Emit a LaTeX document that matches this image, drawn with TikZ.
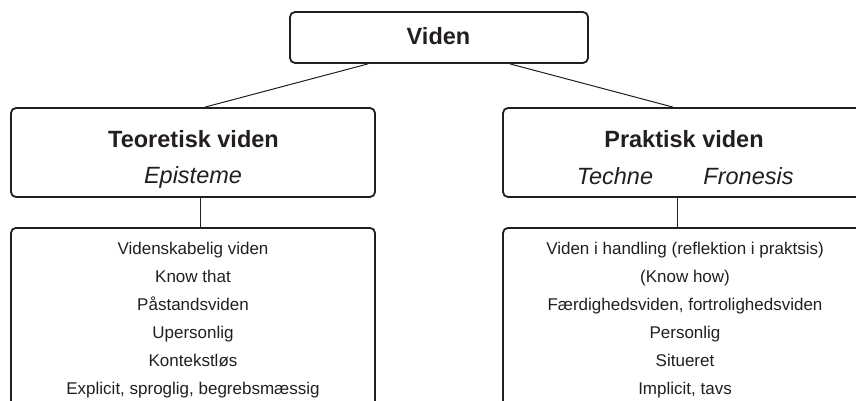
\documentclass[tikz,border=0pt]{standalone}
\usepackage{fontspec}
\setmainfont{Liberation Sans}
\usetikzlibrary{calc}
\definecolor{ink}{HTML}{231F20}
\begin{document}
\begin{tikzpicture}[x=1pt,y=-1pt,
  box/.style={draw=ink, line width=1.8pt, rounded corners=5pt, inner sep=0pt},
  link/.style={draw=ink, line width=1pt},
  headtxt/.style={font=\fontsize{23.5}{28}\selectfont\bfseries, text=ink, anchor=base, inner sep=0pt},
  subtxt/.style={font=\fontsize{23.5}{28}\selectfont\itshape, text=ink, anchor=base, inner sep=0pt},
  listbox/.style={box, anchor=north, minimum width=364pt, inner xsep=0pt, inner ysep=13.8pt,
    align=center, text=ink, font=\fontsize{17}{28}\selectfont}]
\useasboundingbox (0,0) rectangle (856,401);
\clip (0,0) rectangle (856,401);
\fill[white] (0,0) rectangle (856,401);
% boxes
\node[box, minimum width=298pt, minimum height=51pt] (viden) at (439,37.5) {};
\node[box, minimum width=364pt, minimum height=89pt] (teo) at (193,152.5) {};
\node[box, minimum width=364pt, minimum height=89pt] (prak) at (685,152.5) {};
\node[listbox] (teoL) at (193,227) {Videnskabelig viden\\Know that\\Påstandsviden\\Upersonlig\\Kontekstløs\\Explicit, sproglig, begrebsmæssig};
\node[listbox] (prakL) at (685,227) {Viden i handling (reflektion i praktsis)\\(Know how)\\Færdighedsviden, fortrolighedsviden\\Personlig\\Situeret\\Implicit, tavs};
% texts
\node[headtxt] (videnT) at (438.5,45) {Viden};
\node[headtxt] (teoT) at (193.5,147) {Teoretisk viden};
\node[subtxt] (epi) at (193,183.5) {Episteme};
\node[headtxt] (prakT) at (684,147) {Praktisk viden};
\node[subtxt] (techne) at (615,184) {Techne};
\node[subtxt] (fron) at (748.5,184) {Fronesis};
% connectors
\draw[link] ($(viden.south)+(-71,0)$) -- ($(teo.north)+(12,0)$);
\draw[link] ($(viden.south)+(71,0)$) -- ($(prak.north)+(-12,0)$);
\draw[link] ($(teo.south)+(7,0)$) coordinate (a) -- (a |- teoL.north);
\draw[link] ($(prak.south)+(-8,0)$) coordinate (b) -- (b |- prakL.north);
\end{tikzpicture}
\end{document}
